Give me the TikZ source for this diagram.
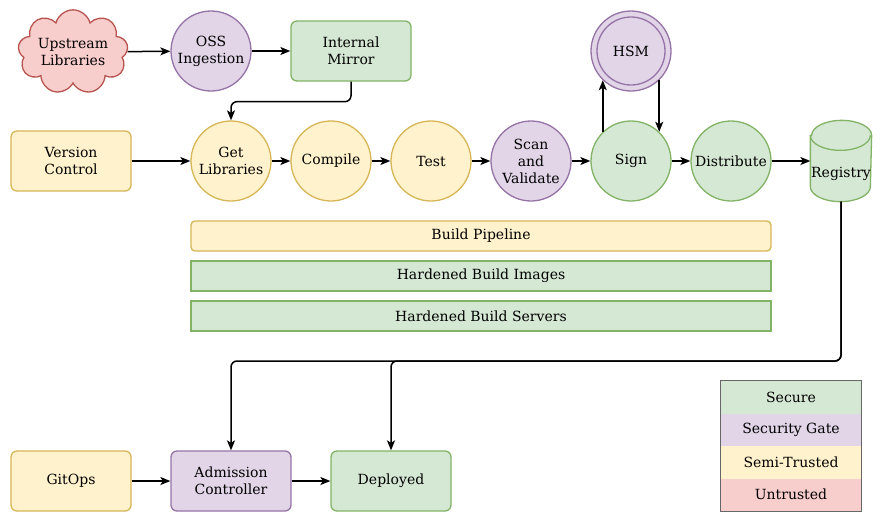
\documentclass[tikz,border=0pt]{standalone}
\usepackage{fontspec}
\setmainfont{DejaVu Serif}
\usetikzlibrary{shapes.symbols,arrows.meta}

\definecolor{securefill}{HTML}{D5E8D4}
\definecolor{securedraw}{HTML}{82B366}
\definecolor{gatefill}{HTML}{E1D5E7}
\definecolor{gatedraw}{HTML}{9673A6}
\definecolor{semifill}{HTML}{FFF2CC}
\definecolor{semidraw}{HTML}{D6B656}
\definecolor{untrustfill}{HTML}{F8CECC}
\definecolor{untrustdraw}{HTML}{B85450}

\begin{document}
\begin{tikzpicture}[x=1pt,y=-1pt,
	font=\fontsize{14}{17}\selectfont,
	every node/.style={line width=1.3pt, align=center},
	secure/.style={draw=securedraw, fill=securefill},
	gate/.style={draw=gatedraw, fill=gatefill},
	semi/.style={draw=semidraw, fill=semifill},
	untrust/.style={draw=untrustdraw, fill=untrustfill},
	stage/.style={circle, minimum size=80, inner sep=0},
	box/.style={rectangle, rounded corners=6, minimum width=120, minimum height=60, inner sep=0},
	band/.style={rectangle, minimum width=580, minimum height=30, inner sep=0},
	legendrow/.style={rectangle, minimum width=140, minimum height=32.5, inner sep=0},
	conn/.style={line width=1.5pt, -{Stealth[length=10pt, width=8pt, inset=2.5pt]}, rounded corners=6}]

	\useasboundingbox (0,0) rectangle (882,522);

	% sources
	\node[cloud, cloud puffs=9, aspect=1.6, untrust, minimum width=110, minimum height=70, inner sep=0] (upstream) at (73,52) {Upstream\\Libraries};
	\node[stage, gate] (oss) at (211,51) {OSS\\Ingestion};
	\node[box, secure] (mirror) at (351,51) {Internal\\Mirror};
	\node[box, semi] (vcs) at (71,161) {Version\\Control};

	% pipeline
	\node[stage, semi] (getlib) at (231,161) {Get\\Libraries};
	\node[stage, semi] (compile) at (331,161) {Compile};
	\node[stage, semi] (test) at (431,161) {Test};
	\node[stage, gate] (scan) at (531,161) {Scan\\and\\Validate};
	\node[stage, secure] (sign) at (631,161) {Sign};
	\node[stage, secure] (distribute) at (731,161) {Distribute};
	\node[stage, gate] (hsm) at (631,51) {HSM};
	\draw[gatedraw, line width=1.3pt] (hsm.center) circle (34);

	% registry drum
	\node[rectangle, minimum width=60, minimum height=50, inner sep=0] (registry) at (841,161) {};
	\path[secure, line width=1.3pt] (registry.north west) -- (registry.south west)
		arc[start angle=180, end angle=0, x radius=30, y radius=15] -- (registry.north east)
		arc[start angle=0, end angle=-180, x radius=30, y radius=15] -- cycle;
	\draw[securedraw, line width=1.3pt] (registry.north west)
		arc[start angle=180, end angle=0, x radius=30, y radius=15];
	\node[yshift=-13pt] (registrytext) at (registry.center) {Registry};

	% layers
	\node[band, semi, rounded corners=4] (pipeline) at (481,236) {Build Pipeline};
	\node[band, secure] (images) at (481,276) {Hardened Build Images};
	\node[band, secure] (servers) at (481,316) {Hardened Build Servers};

	% deploy
	\node[box, semi] (gitops) at (71,481) {GitOps};
	\node[box, gate] (admission) at (231,481) {Admission\\Controller};
	\node[box, secure] (deployed) at (391,481) {Deployed};
	\coordinate (busline) at (0,361);

	\draw[conn] (upstream) -- (oss);
	\draw[conn] (oss) -- (mirror);
	\draw[conn] (mirror.south) -- ++(0,20) -| (getlib.north);
	\draw[conn] (vcs) -- (getlib);
	\draw[conn] (getlib) -- (compile);
	\draw[conn] (compile) -- (test);
	\draw[conn] (test) -- (scan);
	\draw[conn] (scan) -- (sign);
	\draw[conn] (sign) -- (distribute);
	\draw[conn] (distribute) -- (registry);
	\draw[conn] (sign.134) -- (hsm.226);
	\draw[conn] (hsm.-46) -- (sign.46);
	\draw[conn] ([yshift=-15pt]registry.south) |- (busline -| admission.north) -- (admission.north);
	\draw[conn] ([yshift=-15pt]registry.south) |- (busline -| deployed.north) -- (deployed.north);
	\draw[conn] (gitops) -- (admission);
	\draw[conn] (admission) -- (deployed);

	% legend
	\node[legendrow, fill=securefill] (lsecure) at (791,397.25) {Secure};
	\node[legendrow, fill=gatefill] (lgate) at (791,429.75) {Security Gate};
	\node[legendrow, fill=semifill] (lsemi) at (791,462.25) {Semi-Trusted};
	\node[legendrow, fill=untrustfill] (luntrust) at (791,494.75) {Untrusted};
	\draw[black!60, line width=1.3pt] (lsecure.north west) rectangle (luntrust.south east);
\end{tikzpicture}
\end{document}
